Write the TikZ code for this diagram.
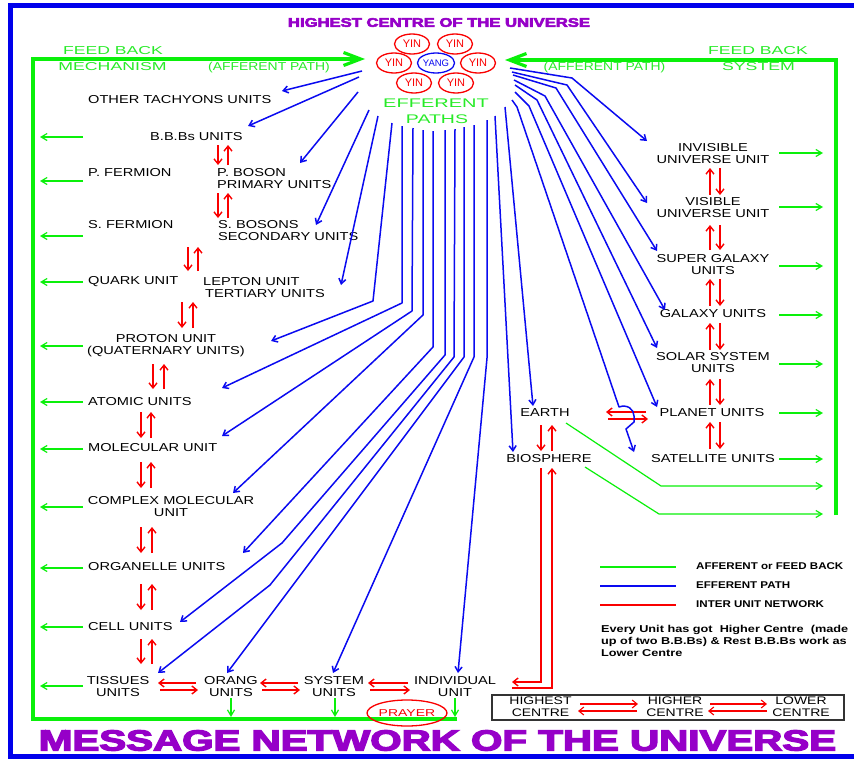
\documentclass[tikz,border=0pt]{standalone}
\usepackage{graphicx}
\usepackage{fontspec}
\setmainfont{Liberation Sans}
\newfontfamily\heavyfont{Liberation Sans}[BoldFeatures={FakeBold=4}]
\usetikzlibrary{arrows.meta,shapes.geometric}
\definecolor{fb}{RGB}{10,240,10}
\definecolor{fbt}{RGB}{40,235,40}
\definecolor{ef}{RGB}{10,10,240}
\definecolor{rd}{RGB}{250,0,0}
\definecolor{pu}{RGB}{150,0,200}
\definecolor{bord}{RGB}{0,0,235}
\newcommand\sx[2]{\scalebox{#1}[1]{#2}}
\begin{document}
\begin{tikzpicture}[x=1pt,y=-1pt,
  lbl/.style={inner sep=0pt, font=\fontsize{11.5}{12}\selectfont, text=black},
  gtxt/.style={inner sep=0pt, font=\fontsize{11.5}{12}\selectfont, text=fbt},
  legtxt/.style={inner sep=0pt, font=\bfseries\fontsize{9.8}{12}\selectfont, text=black, anchor=west},
  partxt/.style={inner sep=0pt, font=\bfseries\fontsize{10}{12}\selectfont, text=black, anchor=base west},
  bl/.style={color=ef, line width=1.5pt, -{Straight Barb[length=5pt,width=7pt]}},
  rl/.style={color=rd, line width=1.4pt, -{Straight Barb[length=5pt,width=8pt]}},
  gl/.style={color=fb, line width=1.2pt, -{Straight Barb[length=6pt,width=7pt]}},
  frame/.style={color=fb, line width=3.2pt, line join=miter},
  yin/.style={ellipse, draw=rd, line width=1.3pt, minimum width=35pt, minimum height=20pt, inner sep=0pt, text=rd, font=\fontsize{11}{11}\selectfont},
]
\useasboundingbox (0,0) rectangle (854,763);
\clip (0,0) rectangle (854,763);
\fill[white] (0,0) rectangle (854,763);
% outer border
\draw[bord, line width=5pt] (10,5.5) rectangle (900,756);

% titles
\node[inner sep=0pt, text=pu, font=\heavyfont\bfseries\fontsize{12.5}{13}\selectfont] (toptitle) at (439,22.5) {\sx{1.33}{HIGHEST CENTRE OF THE UNIVERSE}};
\node[inner sep=0pt, text=pu, font=\heavyfont\bfseries\fontsize{29}{30}\selectfont] (bigtitle) at (437.5,740.5) {\sx{1.39}{MESSAGE NETWORK OF THE UNIVERSE}};

% yin yang cluster
\node[yin] (y1) at (412,44) {YIN};
\node[yin] (y2) at (455,44) {YIN};
\node[yin] (y3) at (394,63) {YIN};
\node[yin, draw=ef, text=ef, font=\fontsize{9.5}{9.5}\selectfont] (yang) at (436,63) {YANG};
\node[yin] (y4) at (478,63) {YIN};
\node[yin] (y5) at (414,83) {YIN};
\node[yin] (y6) at (456,83) {YIN};
\node[gtxt, font=\fontsize{12.5}{13}\selectfont] (eff) at (436,103) {\sx{1.6}{EFFERENT}};
\node[gtxt, font=\fontsize{12.5}{13}\selectfont] (paths) at (437,119) {\sx{1.56}{PATHS}};

% green frame
\coordinate (gBR) at (457,719);
\coordinate (gBL) at (33,719);
\coordinate (gTL) at (33,59);
\coordinate (gTip) at (365,59);
\draw[frame, -{Straight Barb[length=17pt,width=13pt]}] (gBR) -- (gBL) -- (gTL) -- (gTip);
\coordinate (gRB) at (836,515);
\coordinate (gRT) at (836,60);
\coordinate (gTip2) at (505,60);
\draw[frame, -{Straight Barb[length=17pt,width=13pt]}] (gRB) -- (gRT) -- (gTip2);

% green texts
\node[gtxt] (fbl1) at (113,51) {\sx{1.53}{FEED BACK}};
\node[gtxt] (fbl2) at (112.5,67) {\sx{1.54}{MECHANISM}};
\node[gtxt, anchor=base] (afl) at (269,70) {\sx{1.21}{(AFFERENT PATH)}};
\node[gtxt, anchor=base] (afr) at (604.5,70) {\sx{1.21}{(AFFERENT PATH)}};
\node[gtxt] (fbr1) at (758,51) {\sx{1.53}{FEED BACK}};
\node[gtxt] (fbr2) at (758.5,67) {\sx{1.54}{SYSTEM}};

% left column labels
\node[lbl, anchor=west] (tach) at (88,100) {\sx{1.27}{OTHER TACHYONS UNITS}};
\node[lbl, anchor=west] (bbb) at (150,137) {\sx{1.27}{B.B.Bs UNITS}};
\node[lbl, anchor=west] (pf) at (88,173) {\sx{1.27}{P. FERMION}};
\node[lbl, anchor=west, align=left] (pb) at (217,178.5) {\sx{1.27}{P. BOSON}\\\sx{1.27}{PRIMARY UNITS}};
\node[lbl, anchor=west] (sf) at (88,225) {\sx{1.27}{S. FERMION}};
\node[lbl, anchor=west, align=left] (sb) at (218,230.5) {\sx{1.27}{S. BOSONS}\\\sx{1.27}{SECONDARY UNITS}};
\node[lbl, anchor=west] (quark) at (88,282) {\sx{1.27}{QUARK UNIT}};
\node[lbl, anchor=west, align=left] (lepton) at (203,288) {\sx{1.27}{LEPTON UNIT}\\\hspace{2pt}\sx{1.27}{TERTIARY UNITS}};
\node[lbl, align=center] (proton) at (166,346) {\sx{1.27}{PROTON UNIT}\\\sx{1.27}{(QUATERNARY UNITS)}};
\node[lbl, anchor=west] (atomic) at (88,402) {\sx{1.27}{ATOMIC UNITS}};
\node[lbl, anchor=west] (molec) at (88,448) {\sx{1.27}{MOLECULAR UNIT}};
\node[lbl, align=center] (complex) at (171,506.5) {\sx{1.27}{COMPLEX MOLECULAR}\\\sx{1.27}{UNIT}};
\node[lbl, anchor=west] (organelle) at (88,567) {\sx{1.27}{ORGANELLE UNITS}};
\node[lbl, anchor=west] (cell) at (88,627) {\sx{1.27}{CELL UNITS}};
\node[lbl, align=center] (tissues) at (118,686.5) {\sx{1.27}{TISSUES}\\\sx{1.27}{UNITS}};
\node[lbl, align=center] (orang) at (231,686.5) {\sx{1.27}{ORANG}\\\sx{1.27}{UNITS}};
\node[lbl, align=center] (system) at (334,686.5) {\sx{1.27}{SYSTEM}\\\sx{1.27}{UNITS}};
\node[lbl, align=center] (indiv) at (455,686.5) {\sx{1.27}{INDIVIDUAL}\\\sx{1.27}{UNIT}};

% right column labels
\node[lbl, align=center] (inv) at (713,153.5) {\sx{1.27}{INVISIBLE}\\\sx{1.27}{UNIVERSE UNIT}};
\node[lbl, align=center] (vis) at (713,208) {\sx{1.27}{VISIBLE}\\\sx{1.27}{UNIVERSE UNIT}};
\node[lbl, align=center] (sgal) at (713,265) {\sx{1.27}{SUPER GALAXY}\\\sx{1.27}{UNITS}};
\node[lbl] (gal) at (713,314) {\sx{1.27}{GALAXY UNITS}};
\node[lbl, align=center] (solar) at (713,363) {\sx{1.27}{SOLAR SYSTEM}\\\sx{1.27}{UNITS}};
\node[lbl] (planet) at (712,413) {\sx{1.27}{PLANET UNITS}};
\node[lbl] (sat) at (713,459) {\sx{1.27}{SATELLITE UNITS}};
\node[lbl] (earth) at (545,413) {\sx{1.27}{EARTH}};
\node[lbl] (bio) at (549,459) {\sx{1.27}{BIOSPHERE}};

% prayer
\node[ellipse, draw=rd, line width=1.3pt, minimum width=78pt, minimum height=26pt, inner sep=0pt, text=rd, font=\fontsize{10}{10}\selectfont] (prayer) at (407,713) {\sx{1.4}{PRAYER}};

% left green arrows
\foreach \yy [count=\i] in {137,181,236,282,346,402,449,507,568,627,686}{
  \coordinate (gla\i) at (83,\yy);
  \coordinate (glb\i) at (40,\yy);
  \draw[gl] (gla\i) -- (glb\i);
}
% right green arrows
\foreach \yy [count=\i] in {153,207,266,315,364,413,459}{
  \coordinate (gra\i) at (779,\yy);
  \coordinate (grb\i) at (823,\yy);
  \draw[gl] (gra\i) -- (grb\i);
}
% green paths from earth and biosphere
\coordinate (ge1) at (566,423); \coordinate (ge2) at (661,486); \coordinate (ge3) at (823,486);
\draw[gl] (ge1) -- (ge2) -- (ge3);
\coordinate (gb1) at (585,467); \coordinate (gb2) at (659,514); \coordinate (gb3) at (823,514);
\draw[gl] (gb1) -- (gb2) -- (gb3);
% green down arrows to bottom frame
\foreach \xx [count=\i] in {231,335,455}{
  \coordinate (gda\i) at (\xx,698);
  \coordinate (gdb\i) at (\xx,717);
  \draw[gl] (gda\i) -- (gdb\i);
}

% red vertical pairs, left column
\foreach \xa/\xb/\ya/\yb [count=\i] in {218/228/145/165, 218/228/193/218, 188/198/247/271, 182/193/302/328, 153/164/364/389, 141/151/412/438, 141/151/462/488, 141/152/527/553, 141/152/584/610, 141/152/639/664}{
  \coordinate (rda\i) at (\xa,\ya); \coordinate (rdb\i) at (\xa,\yb);
  \coordinate (rua\i) at (\xb,\yb); \coordinate (rub\i) at (\xb,\ya);
  \draw[rl] (rda\i) -- (rdb\i);
  \draw[rl] (rua\i) -- (rub\i);
}
% red vertical pairs, right column
\foreach \ya/\yb [count=\i] in {168/195, 225/250, 279/306, 323/350, 379/405, 422/449}{
  \coordinate (qua\i) at (710,\yb); \coordinate (qub\i) at (710,\ya);
  \coordinate (qda\i) at (720,\ya); \coordinate (qdb\i) at (720,\yb);
  \draw[rl] (qua\i) -- (qub\i);
  \draw[rl] (qda\i) -- (qdb\i);
}
% earth - biosphere
\coordinate (ebd1) at (541,425); \coordinate (ebd2) at (541,451);
\coordinate (ebu1) at (552,451); \coordinate (ebu2) at (552,425);
\draw[rl] (ebd1) -- (ebd2);
\draw[rl] (ebu1) -- (ebu2);
% horizontal pairs bottom row
\foreach \xl/\xr [count=\i] in {158/196, 260/298, 368/408}{
  \coordinate (hla\i) at (\xr,683); \coordinate (hlb\i) at (\xl,683);
  \coordinate (hra\i) at (\xl+2,690); \coordinate (hrb\i) at (\xr+2,690);
  \draw[rl] (hla\i) -- (hlb\i);
  \draw[rl] (hra\i) -- (hrb\i);
}
% earth - planet
\coordinate (epl1) at (646,412); \coordinate (epl2) at (606,412);
\coordinate (epr1) at (608,419); \coordinate (epr2) at (648,419);
\draw[rl] (epl1) -- (epl2);
\draw[rl] (epr1) -- (epr2);
% biosphere - individual
\coordinate (rb1) at (541,468); \coordinate (rb2) at (541,682); \coordinate (rb3) at (512,682);
\draw[rl] (rb1) -- (rb2) -- (rb3);
\coordinate (rb4) at (512,688); \coordinate (rb5) at (552,688); \coordinate (rb6) at (552,468);
\draw[rl] (rb4) -- (rb5) -- (rb6);

% blue efferent paths: straight
\foreach \xa/\ya/\xz/\yz [count=\i] in {362/71/282/91, 359/77/248/126, 358/92/300/163, 369/110/316/225, 378/116/341/285, 495/116/513/452, 505/107/533/406}{
  \coordinate (esa\i) at (\xa,\ya); \coordinate (esz\i) at (\xz,\yz);
  \draw[bl] (esa\i) -- (esz\i);
}
% blue: one bend
\foreach \xa/\ya/\xb/\yb/\xz/\yz [count=\i] in {392/123/373/301/271/341, 402/126/402/303/222/388, 413/128/412/311/222/436, 423/130/423/315/233/493, 433/131/433/347/243/553, 464/127/464/357/227/673, 474/125/474/357/333/673, 487/120/487/358/458/673, 515/92/529/106/657/407, 515/85/537/100/657/348, 514/80/545/96/665/310, 513/75/556/88/657/251, 512/72/567/85/647/203, 510/68/572/78/647/141}{
  \coordinate (eba\i) at (\xa,\ya); \coordinate (ebb\i) at (\xb,\yb); \coordinate (ebz\i) at (\xz,\yz);
  \draw[bl, line join=round] (eba\i) -- (ebb\i) -- (ebz\i);
}
% blue: two bends
\coordinate (ec1a) at (445,130); \coordinate (ec1b) at (445,355); \coordinate (ec1c) at (282,543); \coordinate (ec1z) at (180,622);
\draw[bl, line join=round] (ec1a) -- (ec1b) -- (ec1c) -- (ec1z);
\coordinate (ec2a) at (455,129); \coordinate (ec2b) at (454,357); \coordinate (ec2c) at (270,585); \coordinate (ec2z) at (158,673);
\draw[bl, line join=round] (ec2a) -- (ec2b) -- (ec2c) -- (ec2z);
% blue: to satellite with hop
\coordinate (es1) at (512,100); \coordinate (es2) at (517,107); \coordinate (es3) at (619,407);
\coordinate (es4) at (634,416); \coordinate (es5) at (634,422); \coordinate (es6) at (626,429); \coordinate (es7) at (634,452);
\draw[bl, line join=round] (es1) -- (es2) -- (es3) .. controls (627,404) and (634,409) .. (es4) -- (es5) -- (es6) -- (es7);

% legend
\coordinate (lg1a) at (600,567); \coordinate (lg1b) at (676,567);
\coordinate (lg2a) at (600,586); \coordinate (lg2b) at (676,586);
\coordinate (lg3a) at (600,605); \coordinate (lg3b) at (676,605);
\draw[fb, line width=2.2pt] (lg1a) -- (lg1b);
\draw[ef, line width=2.2pt] (lg2a) -- (lg2b);
\draw[rd, line width=2.2pt] (lg3a) -- (lg3b);
\node[legtxt] (leg1) at (696,566) {\sx{1.18}{AFFERENT or FEED BACK}};
\node[legtxt] (leg2) at (696,585.5) {\sx{1.18}{EFFERENT PATH}};
\node[legtxt] (leg3) at (696,604.5) {\sx{1.18}{INTER UNIT NETWORK}};
\node[partxt] (par1) at (601,632.4) {\sx{1.27}{Every Unit has got\ \ Higher Centre\ \ (made}};
\node[partxt] (par2) at (601,644.6) {\sx{1.27}{up of two B.B.Bs) \& Rest B.B.Bs work as}};
\node[partxt] (par3) at (601,656.7) {\sx{1.27}{Lower Centre}};

% centre box
\draw[black!80, line width=1.8pt] (492,695) rectangle (844,720);
\node[lbl, font=\fontsize{11}{12}\selectfont, align=center] (hc1) at (540.5,707) {\sx{1.27}{HIGHEST}\\\sx{1.27}{CENTRE}};
\node[lbl, font=\fontsize{11}{12}\selectfont, align=center] (hc2) at (675,707) {\sx{1.27}{HIGHER}\\\sx{1.27}{CENTRE}};
\node[lbl, font=\fontsize{11}{12}\selectfont, align=center] (hc3) at (801,707) {\sx{1.27}{LOWER}\\\sx{1.27}{CENTRE}};
\coordinate (bx1a) at (580,704); \coordinate (bx1b) at (638,704);
\coordinate (bx2a) at (637,711); \coordinate (bx2b) at (578,711);
\coordinate (bx3a) at (710,704); \coordinate (bx3b) at (767,704);
\coordinate (bx4a) at (767,711); \coordinate (bx4b) at (708,711);
\draw[rl, line width=1.1pt] (bx1a) -- (bx1b);
\draw[rl, line width=1.1pt] (bx2a) -- (bx2b);
\draw[rl, line width=1.1pt] (bx3a) -- (bx3b);
\draw[rl, line width=1.1pt] (bx4a) -- (bx4b);
\end{tikzpicture}
\end{document}
